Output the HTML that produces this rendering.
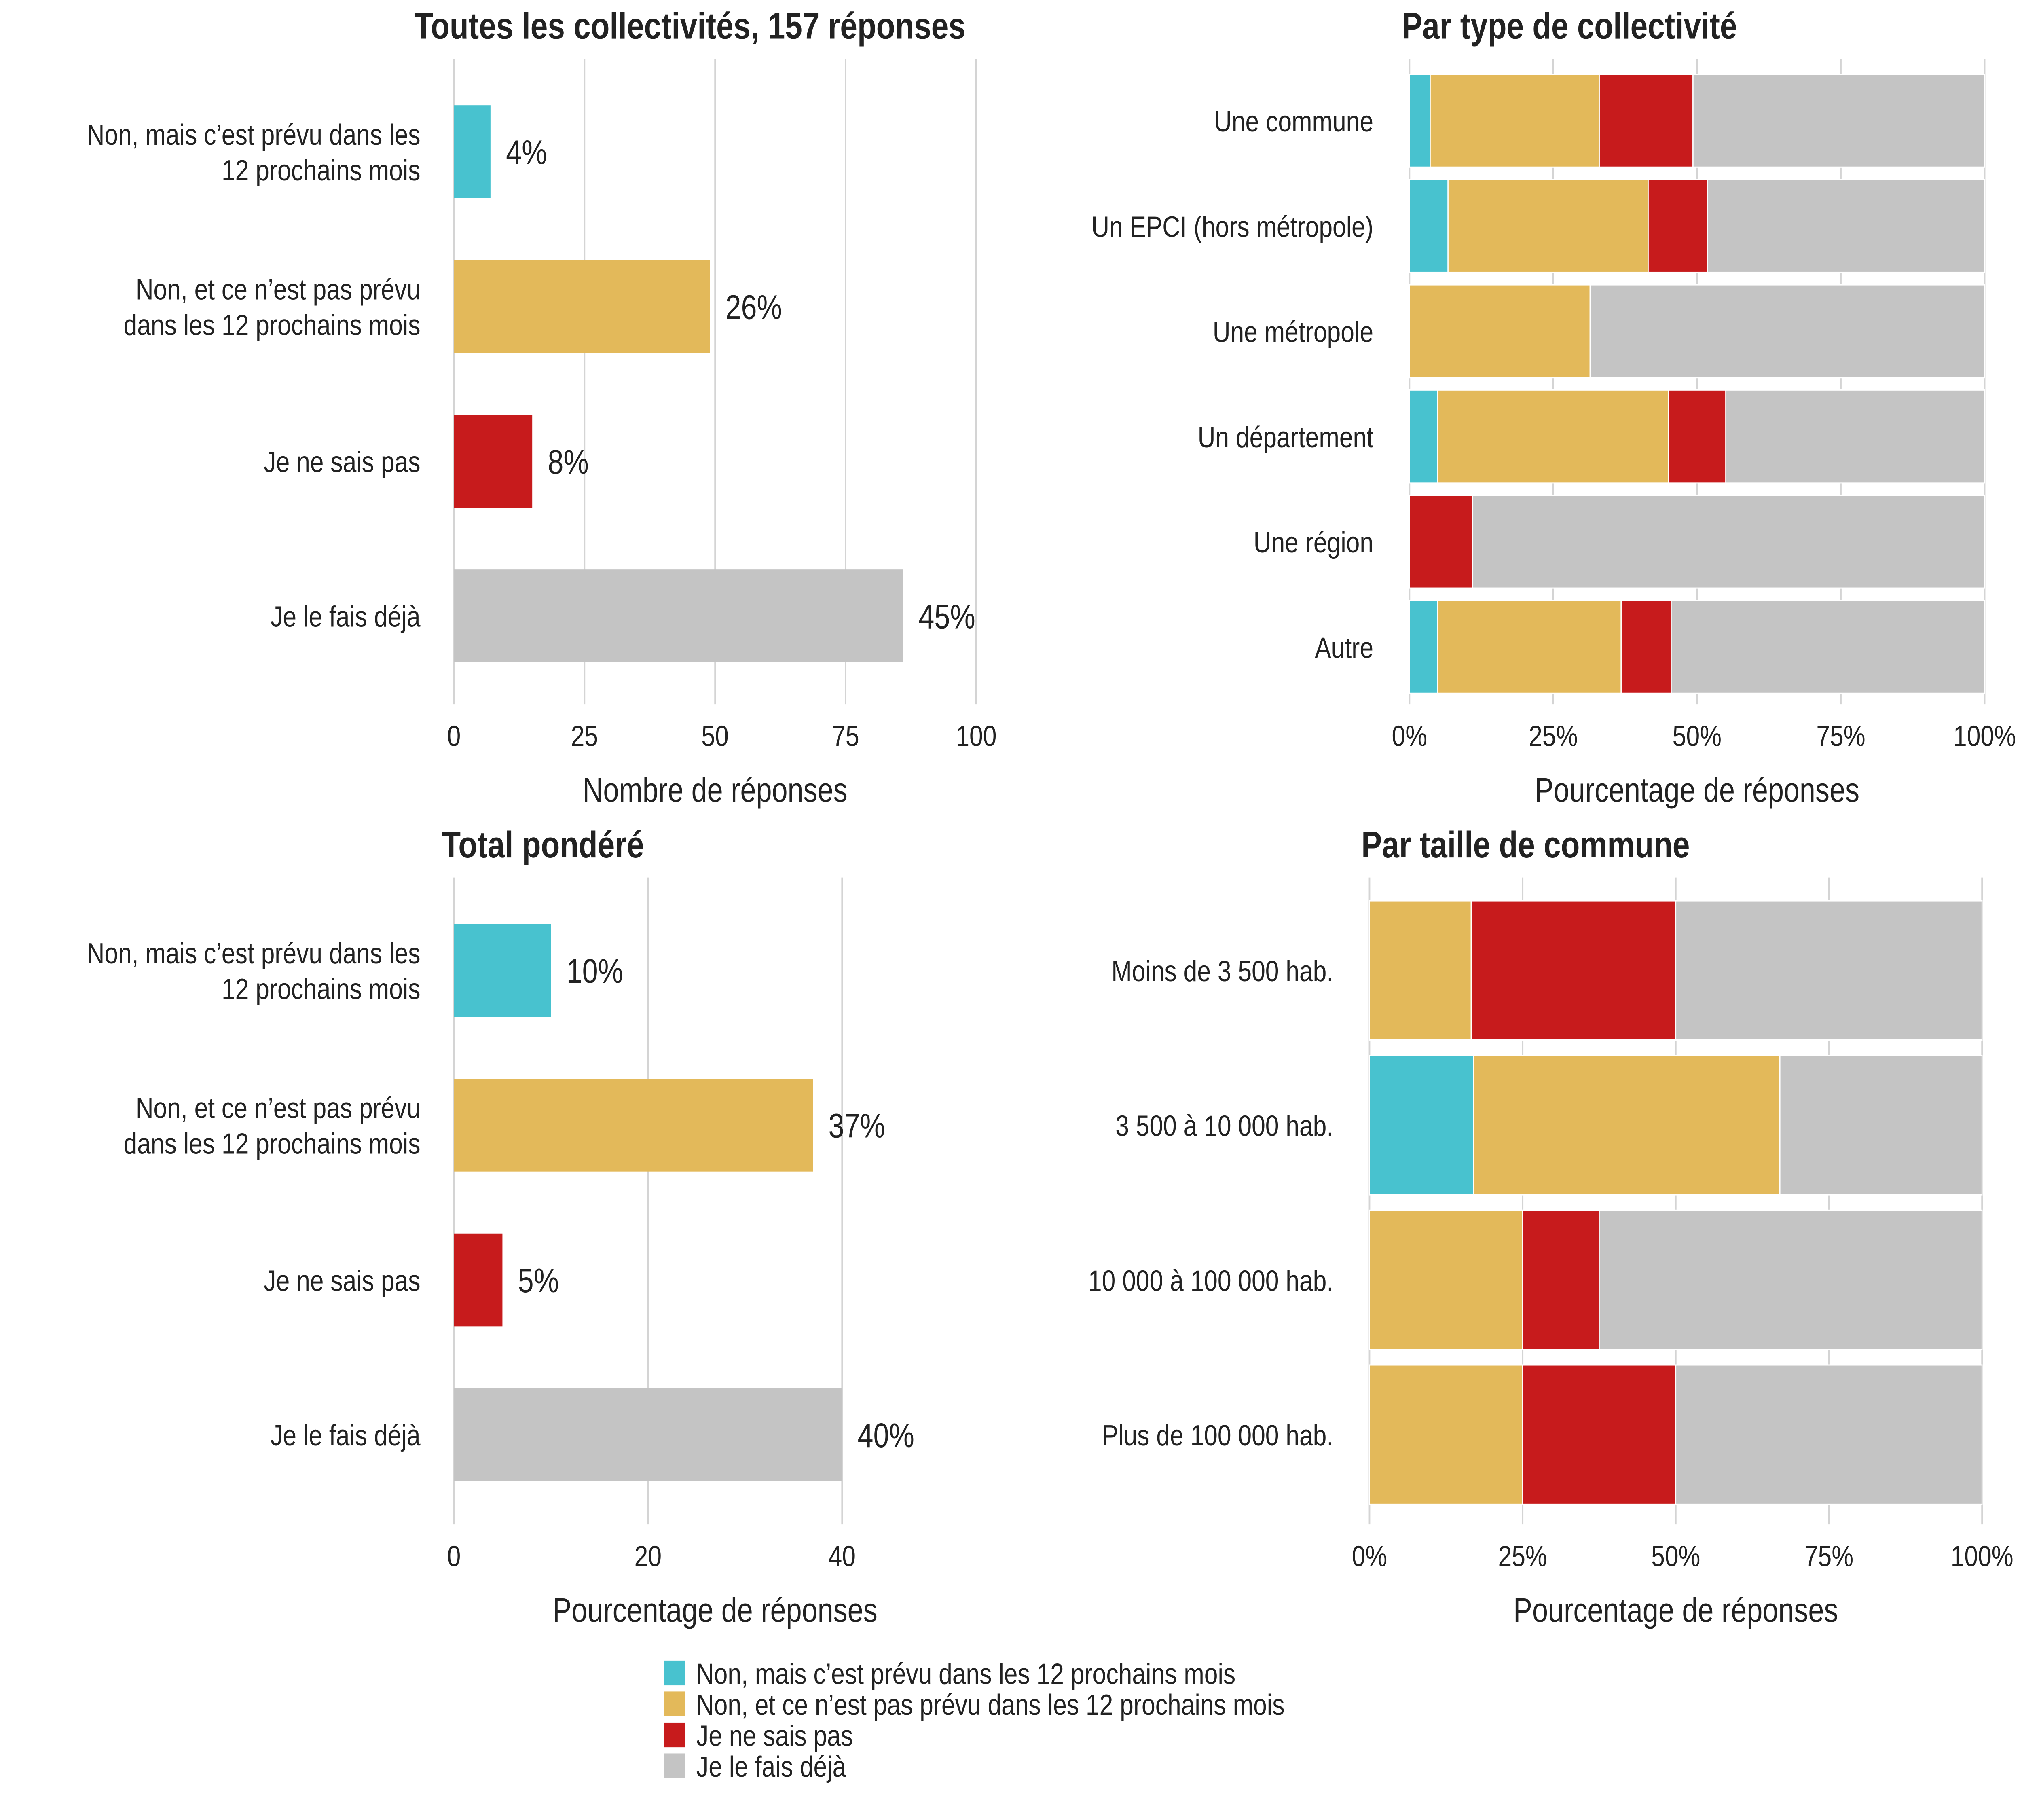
<!DOCTYPE html>
<html><head><meta charset="utf-8"><style>
html,body{margin:0;padding:0;background:#fff;overflow:hidden;width:100vw;height:100vh}
svg{display:block;width:100vw;height:100vh}
text{font-family:"Liberation Sans","DejaVu Sans",sans-serif;fill:#222}
</style></head><body>
<svg id="chart" xmlns="http://www.w3.org/2000/svg" viewBox="0 0 1568 1176" preserveAspectRatio="none">
<rect width="1568" height="1176" fill="#fff"/>
</svg>
<script>
const colors = ["#48c2cf","#e3b95a","#c71b1c","#c4c4c4"];
const seriesNames = ["Non, mais c’est prévu dans les 12 prochains mois","Non, et ce n’est pas prévu dans les 12 prochains mois","Je ne sais pas","Je le fais déjà"];
const p1Categories = [["Non, mais c’est prévu dans les","12 prochains mois"],["Non, et ce n’est pas prévu","dans les 12 prochains mois"],["Je ne sais pas"],["Je le fais déjà"]];
const p1Values = [7, 49, 15, 86];
const p1Labels = ["4%","26%","8%","45%"];
const p1Ticks = [0,25,50,75,100];
const p3Values = [10, 37, 5, 40];
const p3Labels = ["10%","37%","5%","40%"];
const p3Ticks = [0,20,40];
const p2Categories = ["Une commune","Un EPCI (hors métropole)","Une métropole","Un département","Une région","Autre"];
const p2Cyan = [3.6, 6.7, 0, 4.9, 0, 4.9];
const p2Gold = [29.4, 34.8, 31.4, 40.1, 0, 31.9];
const p2Red = [16.3, 10.3, 0, 10.0, 11, 8.7];
const p2Grey = [50.7, 48.2, 68.6, 45.0, 89, 54.5];
const p4Categories = ["Moins de 3 500 hab.","3 500 à 10 000 hab.","10 000 à 100 000 hab.","Plus de 100 000 hab."];
const p4Cyan = [0, 17, 0, 0];
const p4Gold = [16.6, 50, 25, 25];
const p4Red = [33.4, 0, 12.5, 25];
const p4Grey = [50, 33, 62.5, 50];
const pctTicks = [0,25,50,75,100];

const svg = document.getElementById('chart');
const NS = "http://www.w3.org/2000/svg";
function el(tag, attrs, parent){const e=document.createElementNS(NS,tag);for(const k in attrs)e.setAttribute(k,attrs[k]);(parent||svg).appendChild(e);return e;}
function txt(s, attrs, parent){const t=el('text',attrs,parent);t.textContent=s;return t;}

function simplePanel(name, x0, x1, max, yTop, yBot, centers, values, labels, ticks, cats, title, titleX, titleY, axisTitle){
  const g = el('g',{});
  
  
  const sx = v => x0 + (x1-x0)*v/max;
  ticks.forEach(t=>{
    const l = el('line',{x1:sx(t),x2:sx(t),y1:yTop,y2:yBot,stroke:'#d4d4d4','stroke-width':1.2},g);
    
    
    const tl = txt(String(t),{x:sx(t),y:yBot+27,'text-anchor':'middle','font-size':19},g);
    
    
  });
  values.forEach((v,i)=>{
    const r = el('rect',{x:x0,y:centers[i]-30,width:sx(v)-x0,height:60,fill:colors[i]},g);
    
    
    const vl = txt(labels[i],{x:sx(v)+12,y:centers[i]+8,'font-size':22,'text-anchor':'start'},g);
    
    
    const lines = cats[i];
    lines.forEach((s,j)=>{
      const cy = centers[i] + 7 + (j - (lines.length-1)/2)*23;
      const c = txt(s,{x:326,y:cy,'text-anchor':'end','font-size':19},g);
      
      
    });
  });
  const tt = txt(title,{x:titleX,y:titleY,'text-anchor':'middle','font-size':24,'font-weight':'bold'},g);
  
  
  const at = txt(axisTitle,{x:(x0+757)/2,y:yBot+63,'text-anchor':'middle','font-size':22},g);
  
  
}
simplePanel('panel-all-responses',352,757,100,38,455,[98,198,298,398],p1Values,p1Labels,p1Ticks,p1Categories,'Toutes les collectivités, 157 réponses',535,25,'Nombre de réponses');
simplePanel('panel-weighted-total',352,653,40,567,985,[627,727,827,927],p3Values,p3Labels,p3Ticks,p1Categories,'Total pondéré',421,554,'Pourcentage de réponses');

function stackPanel(name, x0, x1, yTop, yBot, centers, h, cats, series, title, titleX, titleY){
  const g = el('g',{});
  
  
  const sx = v => x0 + (x1-x0)*v/100;
  pctTicks.forEach(t=>{
    const l = el('line',{x1:sx(t),x2:sx(t),y1:yTop,y2:yBot,stroke:'#d4d4d4','stroke-width':1.2},g);
    
    
    const tl = txt(t+'%',{x:sx(t),y:yBot+27,'text-anchor':'middle','font-size':19},g);
    
    
  });
  cats.forEach((c,i)=>{
    let acc = 0;
    series.forEach((s,k)=>{
      const v = s[i];
      if(v>0){
        const r = el('rect',{x:sx(acc),y:centers[i]-h/2,width:sx(acc+v)-sx(acc),height:h,fill:colors[k],stroke:'#fff','stroke-width':0.8},g);
        
        
      }
      acc += v;
    });
    const cl = txt(c,{x:x0-28,y:centers[i]+7,'text-anchor':'end','font-size':19},g);
    
    
  });
  const tt = txt(title,{x:titleX,y:titleY,'text-anchor':'middle','font-size':24,'font-weight':'bold'},g);
  
  
  const at = txt('Pourcentage de réponses',{x:(x0+x1)/2,y:yBot+63,'text-anchor':'middle','font-size':22},g);
  
  
}
stackPanel('panel-by-type',1093,1539,38,455,[78,146,214,282,350,418],60,p2Categories,[p2Cyan,p2Gold,p2Red,p2Grey],'Par type de collectivité',1217,25);
stackPanel('panel-by-size',1062,1537,567,985,[627,727,827,927],90,p4Categories,[p4Cyan,p4Gold,p4Red,p4Grey],'Par taille de commune',1183,554);

const lg = el('g',{});


seriesNames.forEach((s,i)=>{
  const y = 1073 + i*20;
  const r = el('rect',{x:515,y:y,width:16,height:16,fill:colors[i]},lg);
  
  
  const t = txt(s,{x:540,y:y+15,'font-size':19},lg);
  
  
});
</script>
</body></html>
